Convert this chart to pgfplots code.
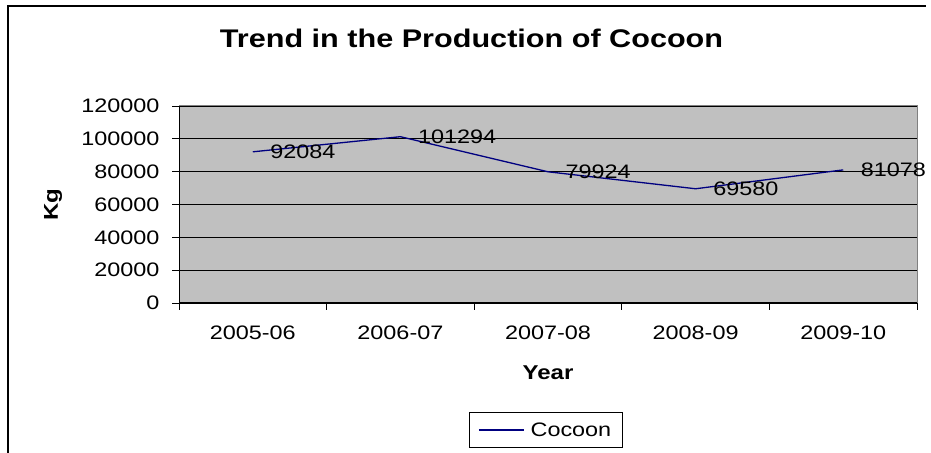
\documentclass[border=0pt]{standalone}
\usepackage{fontspec}
\setmainfont[FakeStretch=1.2]{Liberation Sans}
\usepackage{pgfplots}
\pgfplotsset{compat=1.18}
\usepackage{pgfplotstable}
\definecolor{plotgray}{HTML}{C0C0C0}
\definecolor{navyline}{HTML}{000080}
\definecolor{framegray}{HTML}{808080}
\pgfplotstableread{
x y label
0 92084 92084
1 101294 101294
2 79924 79924
3 69580 69580
4 81078 81078
}\cocoon
\begin{document}
\begin{tikzpicture}[x=1bp,y=1bp]
\useasboundingbox (0,0) rectangle (931,453);
\draw[line width=1.2bp] (8,-5) -- (8,447) -- (926,447);
\node[font=\fontsize{25.5bp}{30bp}\selectfont\bfseries] at (471.5,415) {Trend in the Production of Cocoon};
\begin{axis}[
  at={(179bp,150bp)}, anchor=south west,
  scale only axis, width=738bp, height=197bp,
  xmin=-0.5, xmax=4.5, ymin=0, ymax=120000,
  axis background/.style={fill=plotgray},
  axis line style={draw=none},
  ytick={0,20000,...,120000},
  scaled y ticks=false,
  /pgf/number format/assume math mode=true,
  yticklabel style={/pgf/number format/fixed, /pgf/number format/1000 sep={}, font=\fontsize{19.5bp}{23bp}\selectfont, xshift=-9bp},
  xtick={-0.5,0.5,...,4.5},
  x tick label as interval,
  xticklabels={2005-06,2006-07,2007-08,2008-09,2009-10},
  xticklabel style={font=\fontsize{19.5bp}{23bp}\selectfont, yshift=-12bp},
  tick align=outside,
  tick pos=left,
  major tick length=7bp,
  tick style={black, line width=0.8bp},
  ymajorgrids,
  grid style={black, line width=0.8bp},
  xlabel={Year},
  ylabel={Kg},
  xlabel style={font=\fontsize{20bp}{24bp}\selectfont\bfseries, at={(axis description cs:0.5,-0.355)}, anchor=center},
  ylabel style={font=\fontsize{20bp}{24bp}\selectfont\bfseries, at={(axis description cs:-0.1707,0.5)}, anchor=center},
  legend style={at={(axis description cs:0.497,-0.6447)}, anchor=center, draw=black, line width=0.8bp, fill=white, font=\fontsize{19.5bp}{23bp}\selectfont, inner xsep=9bp, inner ysep=8bp, column sep=4bp},
  legend image code/.code={\draw[#1] (0bp,0bp) -- (45bp,0bp);},
  clip=false,
]
\addplot[color=navyline, line width=1.3bp, mark=none,
  nodes near coords, point meta=explicit symbolic,
  every node near coord/.append style={anchor=west, inner sep=0pt, xshift=17bp, text=black, font=\fontsize{19.5bp}{23bp}\selectfont}]
  table[x=x, y=y, meta=label] {\cocoon};
\addlegendentry{Cocoon}
\draw[framegray, line width=1bp] (rel axis cs:0,1) -- (rel axis cs:1,1) -- (rel axis cs:1,0);
\draw[black, line width=1bp] (rel axis cs:0,1) -- (rel axis cs:0,0) -- (rel axis cs:1,0);
\end{axis}
\end{tikzpicture}
\end{document}
